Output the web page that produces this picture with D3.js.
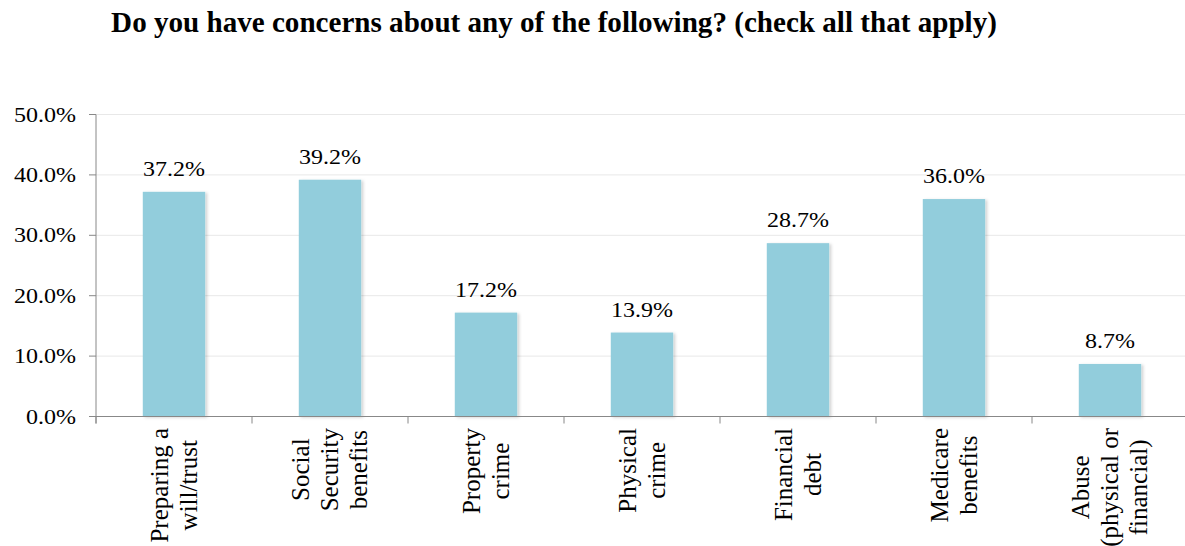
<!DOCTYPE html>
<html><head><meta charset="utf-8">
<script src="https://cdn.jsdelivr.net/npm/d3@7"></script>
<style>body{margin:0;background:#fff;}svg{display:block;}</style>
</head><body>
<script>
const categories = [["Preparing a","will/trust"],["Social","Security","benefits"],["Property","crime"],["Physical","crime"],["Financial","debt"],["Medicare","benefits"],["Abuse","(physical or","financial)"]];
const values = [37.2, 39.2, 17.2, 13.9, 28.7, 36.0, 8.7];
const yTicks = [0,10,20,30,40,50];
const title = "Do you have concerns about any of the following? (check all that apply)";

const W=1185,H=546;
const svg=d3.select("body").append("svg").attr("width",W).attr("height",H);
const defs=svg.append("defs");
const f=defs.append("filter").attr("id","sh").attr("x","-20%").attr("y","-20%").attr("width","140%").attr("height","140%");
f.append("feDropShadow").attr("dx",2).attr("dy",1).attr("stdDeviation",1.5).attr("flood-color","#000").attr("flood-opacity",0.18);

const x=d3.scaleBand().domain(d3.range(values.length)).range([96,1188]).paddingInner(0.6).paddingOuter(0.3);
const xb=d3.scaleBand().domain(d3.range(values.length)).range([96,1188]);
const y=d3.scaleLinear().domain([0,50]).range([416.5,114.5]);
const font="'Liberation Serif','Times New Roman',serif";

// gridlines
svg.append("g").selectAll("line").data(yTicks.slice(1)).join("line")
 .attr("x1",96).attr("x2",W).attr("y1",d=>y(d)).attr("y2",d=>y(d)).attr("stroke","#e8e8e8").attr("stroke-width",1);

// bars
svg.append("g").selectAll("rect").data(values).join("rect")
 .attr("x",(d,i)=>x(i)).attr("width",x.bandwidth()).attr("y",d=>y(d)).attr("height",d=>y(0)-y(d))
 .attr("fill","#92CDDC").attr("filter","url(#sh)");

// y axis
const ya=svg.append("g");
ya.append("line").attr("x1",96).attr("x2",96).attr("y1",y(50)).attr("y2",y(0)+7).attr("stroke","#888");
ya.selectAll(".t").data(yTicks).join("line").attr("x1",89).attr("x2",96).attr("y1",d=>y(d)).attr("y2",d=>y(d)).attr("stroke","#888");
ya.selectAll("text").data(yTicks).join("text")
 .attr("transform",d=>`translate(76,${y(d)+7}) scale(1.2,1)`).attr("text-anchor","end")
 .style("font-family",font).style("font-size","20px").attr("fill","#000").text(d=>d.toFixed(1)+"%");

// x axis
const xa=svg.append("g");
xa.append("line").attr("x1",96).attr("x2",W).attr("y1",y(0)).attr("y2",y(0)).attr("stroke","#888");
xa.selectAll("line.t").data(d3.range(values.length+1)).join("line").attr("class","t")
 .attr("x1",i=>96+i*xb.step()).attr("x2",i=>96+i*xb.step()).attr("y1",y(0)).attr("y2",y(0)+7).attr("stroke","#888");

// value labels
svg.append("g").selectAll("text").data(values).join("text")
 .attr("transform",(d,i)=>`translate(${x(i)+x.bandwidth()/2},${y(d)-16}) scale(1.2,1)`).attr("text-anchor","middle")
 .style("font-family",font).style("font-size","20px").attr("fill","#000").text(d=>d.toFixed(1)+"%");

// category labels
const cg=svg.append("g");
categories.forEach((lines,i)=>{
  const cx=xb(i)+xb.bandwidth()/2;
  const n=lines.length, lh=29;
  const t=cg.append("text").style("font-family",font).style("font-size","25px").attr("fill","#000").attr("text-anchor","middle");
  const tsp=lines.map((s,k)=>t.append("tspan").text(s));
  let maxL=d3.max(tsp,s=>s.node().getComputedTextLength());
  const cy=428+maxL/2;
  tsp.forEach((s,k)=>s.attr("x",0).attr("y",(k-(n-1)/2)*lh+8));
  t.attr("transform",`translate(${cx},${cy}) rotate(-90)`);
});

// title
svg.append("text").attr("transform","translate(554,32) scale(0.97,1)").attr("text-anchor","middle")
 .style("font-family",font).style("font-size","30px").style("font-weight","bold").text(title);
</script>
</body></html>
